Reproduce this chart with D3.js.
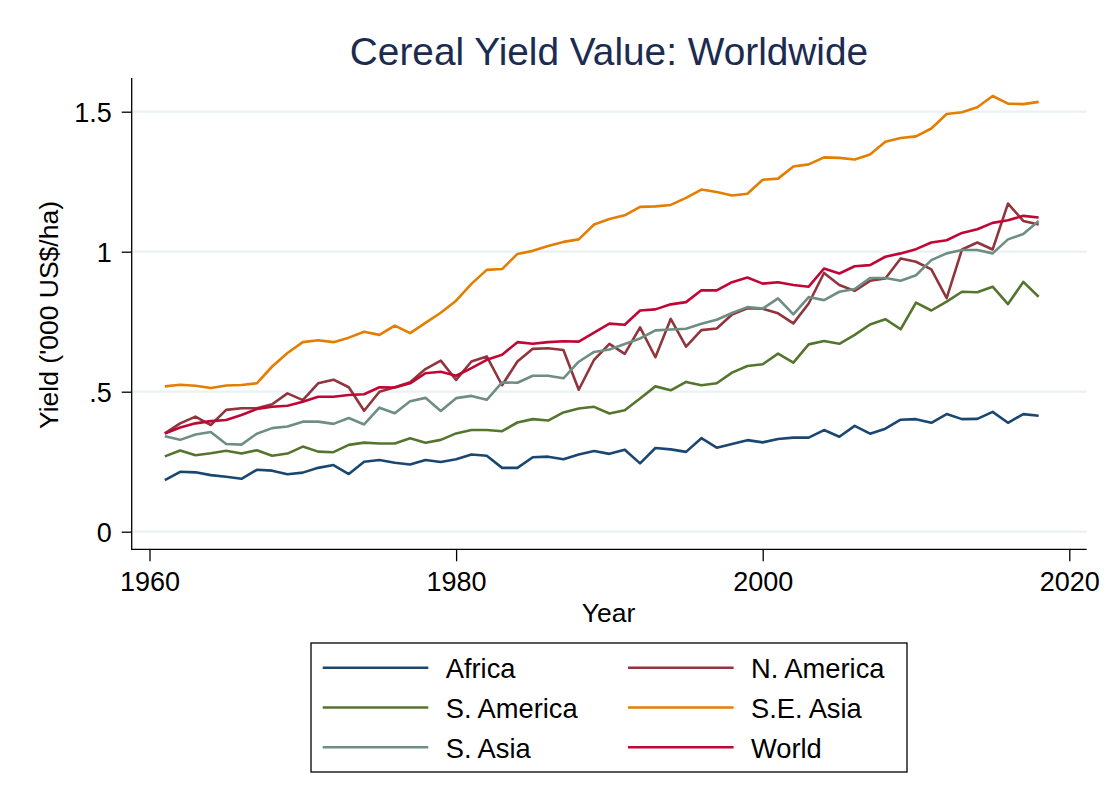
<!DOCTYPE html>
<html>
<head>
<meta charset="utf-8">
<script src="https://cdn.jsdelivr.net/npm/d3@7/dist/d3.min.js"></script>
<style>
  body { margin: 0; background: #fff; }
  svg { display: block; }
  text { font-family: "Liberation Sans", Arial, Helvetica, sans-serif; }
</style>
</head>
<body>
<svg id="chart" width="1116" height="812"></svg>
<script>
// ---------------- DATA ----------------
const years = [1961,1962,1963,1964,1965,1966,1967,1968,1969,1970,
  1971,1972,1973,1974,1975,1976,1977,1978,1979,1980,
  1981,1982,1983,1984,1985,1986,1987,1988,1989,1990,
  1991,1992,1993,1994,1995,1996,1997,1998,1999,2000,
  2001,2002,2003,2004,2005,2006,2007,2008,2009,2010,
  2011,2012,2013,2014,2015,2016,2017,2018];

const africa = [0.184,0.214,0.212,0.202,0.196,0.189,0.221,0.218,0.205,0.211,
  0.228,0.238,0.206,0.250,0.256,0.246,0.240,0.256,0.249,0.259,
  0.276,0.271,0.228,0.228,0.266,0.268,0.259,0.276,0.288,0.278,
  0.293,0.244,0.299,0.294,0.285,0.334,0.300,0.313,0.327,0.319,
  0.331,0.336,0.336,0.363,0.339,0.378,0.350,0.368,0.400,0.402,
  0.389,0.420,0.402,0.403,0.428,0.389,0.420,0.414];

const nAmerica = [0.351,0.387,0.411,0.381,0.435,0.441,0.441,0.455,0.494,0.470,
  0.530,0.543,0.516,0.432,0.500,0.516,0.534,0.581,0.611,0.542,
  0.608,0.626,0.523,0.608,0.653,0.655,0.649,0.507,0.614,0.671,
  0.635,0.730,0.623,0.760,0.661,0.720,0.726,0.776,0.798,0.796,
  0.780,0.744,0.815,0.924,0.881,0.860,0.896,0.904,0.976,0.964,
  0.937,0.834,1.008,1.033,1.008,1.172,1.110,1.097];

const sAmerica = [0.269,0.290,0.273,0.280,0.289,0.279,0.291,0.271,0.279,0.304,
  0.286,0.284,0.310,0.318,0.315,0.315,0.334,0.318,0.328,0.351,
  0.363,0.363,0.359,0.390,0.402,0.397,0.426,0.440,0.446,0.422,
  0.434,0.476,0.519,0.505,0.535,0.523,0.530,0.568,0.592,0.598,
  0.636,0.604,0.669,0.681,0.671,0.703,0.740,0.759,0.723,0.818,
  0.790,0.822,0.857,0.855,0.875,0.813,0.892,0.839];

const seAsia = [0.519,0.525,0.521,0.513,0.522,0.524,0.530,0.590,0.638,0.677,
  0.684,0.677,0.693,0.714,0.703,0.736,0.709,0.746,0.782,0.825,
  0.885,0.935,0.938,0.992,1.003,1.020,1.035,1.044,1.097,1.117,
  1.130,1.160,1.162,1.167,1.192,1.222,1.213,1.201,1.207,1.257,
  1.261,1.304,1.312,1.337,1.335,1.329,1.347,1.393,1.406,1.412,
  1.440,1.492,1.498,1.516,1.556,1.529,1.527,1.535];

const sAsia = [0.341,0.328,0.347,0.356,0.313,0.311,0.350,0.370,0.376,0.393,
  0.393,0.385,0.406,0.383,0.443,0.423,0.466,0.478,0.431,0.477,
  0.485,0.471,0.533,0.532,0.557,0.557,0.548,0.607,0.642,0.651,
  0.670,0.690,0.719,0.722,0.725,0.743,0.757,0.781,0.802,0.797,
  0.833,0.776,0.838,0.827,0.857,0.867,0.906,0.906,0.896,0.916,
  0.970,0.994,1.006,1.006,0.994,1.044,1.063,1.110];

const world = [0.351,0.372,0.387,0.395,0.399,0.417,0.438,0.446,0.450,0.464,
  0.482,0.482,0.488,0.491,0.516,0.515,0.530,0.566,0.571,0.557,
  0.584,0.614,0.632,0.677,0.671,0.677,0.680,0.679,0.711,0.743,
  0.739,0.790,0.794,0.812,0.820,0.862,0.862,0.891,0.908,0.886,
  0.891,0.881,0.875,0.940,0.922,0.948,0.952,0.982,0.994,1.009,
  1.033,1.041,1.067,1.080,1.103,1.112,1.128,1.122];

const seriesNames = ["Africa","N. America","S. America","S.E. Asia","S. Asia","World"];
const seriesColors = ["#1a476f","#90353b","#55752f","#e37e00","#6e8e84","#c10534"];
const seriesValues = [africa, nAmerica, sAmerica, seAsia, sAsia, world];

const yTicks = [0, 0.5, 1, 1.5];
const yTickLabels = ["0", ".5", "1", "1.5"];
const xTicks = [1960, 1980, 2000, 2020];
const xTickLabels = ["1960", "1980", "2000", "2020"];

const titleText = "Cereal Yield Value: Worldwide";
const xTitle = "Year";
const yTitle = "Yield ('000 US$/ha)";

// ---------------- LAYOUT ----------------
const svg = d3.select("#chart");
const W = 1116, H = 812;
svg.append("rect").attr("width", W).attr("height", H).attr("fill", "#ffffff");

const axisX = 131.7;        // y-axis line position
const axisY = 549.3;        // x-axis line position
const plotRight = 1086.7;
const plotTop = 78;

const x = d3.scaleLinear().domain([1960, 2020]).range([149.5, 1069.3]);
const y = d3.scaleLinear().domain([0, 1.5]).range([531.7, 111.7]);

// gridlines
svg.append("g").selectAll("line").data(yTicks).join("line")
  .attr("x1", axisX + 1).attr("x2", plotRight)
  .attr("y1", d => y(d)).attr("y2", d => y(d))
  .attr("stroke", "#eaf2f3").attr("stroke-width", 2.2);

// series lines
const line = d3.line()
  .x((d, i) => x(years[i]))
  .y(d => y(d))
  .curve(d3.curveLinear);

svg.append("g").selectAll("path").data(seriesValues).join("path")
  .attr("d", d => line(d))
  .attr("fill", "none")
  .attr("stroke", (d, i) => seriesColors[i])
  .attr("stroke-width", 2.6)
  .attr("stroke-linejoin", "round")
  .attr("stroke-linecap", "butt");

// y axis
const yAxis = d3.axisLeft(y)
  .tickValues(yTicks)
  .tickFormat((d, i) => yTickLabels[i])
  .tickSize(10).tickSizeOuter(0).tickPadding(10);
const gy = svg.append("g").attr("transform", `translate(${axisX},0)`).call(yAxis);
gy.select(".domain").remove();
gy.selectAll(".tick line").attr("stroke", "#000").attr("stroke-width", 1.3);
gy.selectAll(".tick text")
  .attr("font-size", 27).attr("fill", "#000")
  .attr("font-family", '"Liberation Sans", Arial, sans-serif')
  .attr("dy", "0.36em");
svg.append("line")
  .attr("x1", axisX).attr("x2", axisX)
  .attr("y1", plotTop).attr("y2", axisY + 0.6)
  .attr("stroke", "#000").attr("stroke-width", 1.3);

// x axis
const xAxis = d3.axisBottom(x)
  .tickValues(xTicks)
  .tickFormat((d, i) => xTickLabels[i])
  .tickSize(12).tickSizeOuter(0).tickPadding(11);
const gx = svg.append("g").attr("transform", `translate(0,${axisY})`).call(xAxis);
gx.select(".domain").remove();
gx.selectAll(".tick line").attr("stroke", "#000").attr("stroke-width", 1.3);
gx.selectAll(".tick text")
  .attr("font-size", 27).attr("fill", "#000")
  .attr("font-family", '"Liberation Sans", Arial, sans-serif');
svg.append("line")
  .attr("x1", axisX - 0.6).attr("x2", plotRight)
  .attr("y1", axisY).attr("y2", axisY)
  .attr("stroke", "#000").attr("stroke-width", 1.3);

// title
svg.append("text")
  .attr("x", 609).attr("y", 65)
  .attr("text-anchor", "middle")
  .attr("font-size", 38.8)
  .attr("fill", "#1c2b50")
  .text(titleText);

// axis titles
svg.append("text")
  .attr("x", 608.5).attr("y", 621.5)
  .attr("text-anchor", "middle")
  .attr("font-size", 26.5).attr("fill", "#000")
  .text(xTitle);

svg.append("text")
  .attr("transform", "translate(57.5,315) rotate(-90)")
  .attr("text-anchor", "middle")
  .attr("font-size", 26.5).attr("fill", "#000")
  .text(yTitle);

// legend
const legend = svg.append("g");
legend.append("rect")
  .attr("x", 311).attr("y", 643)
  .attr("width", 596).attr("height", 129)
  .attr("fill", "#fff").attr("stroke", "#000").attr("stroke-width", 1.3);

const colLineX = [322.7, 628];
const colTextX = [445.7, 751];
const rowY = [667.7, 707.5, 747.3];

const items = legend.selectAll("g.item").data(seriesNames).join("g").attr("class", "item")
  .attr("transform", (d, i) => `translate(0,${rowY[Math.floor(i / 2)]})`);
items.append("line")
  .attr("x1", (d, i) => colLineX[i % 2])
  .attr("x2", (d, i) => colLineX[i % 2] + 105.6)
  .attr("y1", 0).attr("y2", 0)
  .attr("stroke", (d, i) => seriesColors[i])
  .attr("stroke-width", 2.6);
items.append("text")
  .attr("x", (d, i) => colTextX[i % 2])
  .attr("y", 10.6)
  .attr("font-size", 27.3).attr("fill", "#000")
  .text(d => d);
</script>
</body>
</html>
